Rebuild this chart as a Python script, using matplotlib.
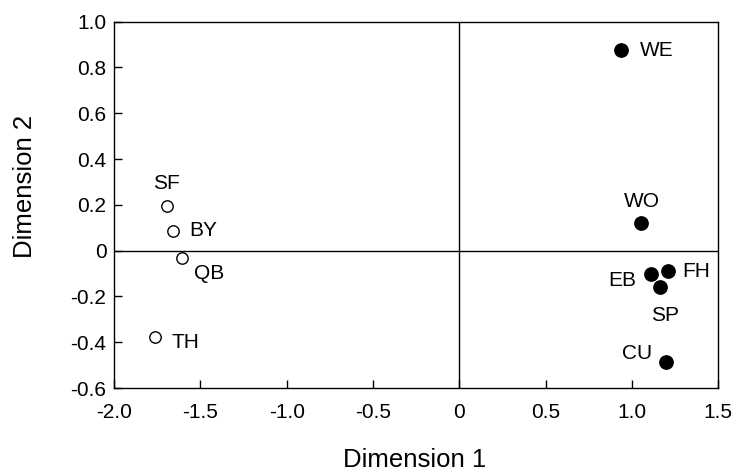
import numpy as np
import matplotlib
matplotlib.use('Agg')
import matplotlib.pyplot as plt

plt.rcParams['font.family'] = ['Liberation Sans', 'DejaVu Sans']

## open circles (group 1)
open_names = ['SF', 'BY', 'QB', 'TH']
open_x = [-1.695, -1.657, -1.608, -1.763]
open_y = [0.196, 0.086, -0.031, -0.376]

## filled circles (group 2)
fill_names = ['WE', 'WO', 'EB', 'FH', 'SP', 'CU']
fill_x = [0.937, 1.053, 1.110, 1.207, 1.163, 1.198]
fill_y = [0.876, 0.119, -0.104, -0.089, -0.160, -0.485]

xticks = [-2.0, -1.5, -1.0, -0.5, 0, 0.5, 1.0, 1.5]
xticklabels = ['-2.0', '-1.5', '-1.0', '-0.5', '0', '0.5', '1.0', '1.5']
yticks = [-0.6, -0.4, -0.2, 0, 0.2, 0.4, 0.6, 0.8, 1.0]
yticklabels = ['-0.6', '-0.4', '-0.2', '0', '0.2', '0.4', '0.6', '0.8', '1.0']

## label offsets in points: (dx, dy, ha)
offs = {
  'SF': (0, 16, 'center'), 'BY': (11.3, 0, 'left'), 'QB': (8.9, -11, 'left'),
  'TH': (12.2, -4.5, 'left'), 'WE': (13.7, 0, 'left'), 'WO': (0.5, 15.6, 'center'),
  'EB': (-10.3, -4.1, 'right'), 'FH': (10.8, 0, 'left'), 'SP': (3.6, -20, 'center'),
  'CU': (-21, 6.2, 'center'),
}

fig = plt.figure(figsize=(7.38, 4.74), dpi=100)
ax = fig.add_axes([0.1545, 0.1814, 0.8188, 0.7728])

ax.axhline(0, color='black', lw=1.0, zorder=1)
ax.axvline(0, color='black', lw=1.0, zorder=1)

ax.plot(open_x, open_y, 'o', ms=8.2, mfc='white', mec='black', mew=1.0, zorder=3)
ax.plot(fill_x, fill_y, 'o', ms=9.6, mfc='black', mec='black', zorder=3)

for nm, x, y in zip(open_names + fill_names, open_x + fill_x, open_y + fill_y):
  dx, dy, ha = offs[nm]
  ax.annotate(nm, (x, y), xytext=(dx, dy), textcoords='offset points',
              ha=ha, va='center', fontsize=15)

ax.set_xlim(-2.0, 1.5)
ax.set_ylim(-0.6, 1.0)
ax.set_xticks(xticks)
ax.set_xticklabels(xticklabels)
ax.set_yticks(yticks)
ax.set_yticklabels(yticklabels)
ax.tick_params(direction='in', length=6, width=1, labelsize=15, colors='black')
ax.tick_params(axis='x', pad=10.6)
ax.tick_params(axis='y', pad=5.5)
for s in ax.spines.values():
  s.set_linewidth(1.0)

ax.set_xlabel('Dimension 1', fontsize=18.5)
ax.set_ylabel('Dimension 2', fontsize=18.5)
ax.xaxis.set_label_coords(0.498, -0.163)
ax.yaxis.set_label_coords(-0.127, 0.549)

fig.savefig('out.png', dpi=100)
plt.close()
